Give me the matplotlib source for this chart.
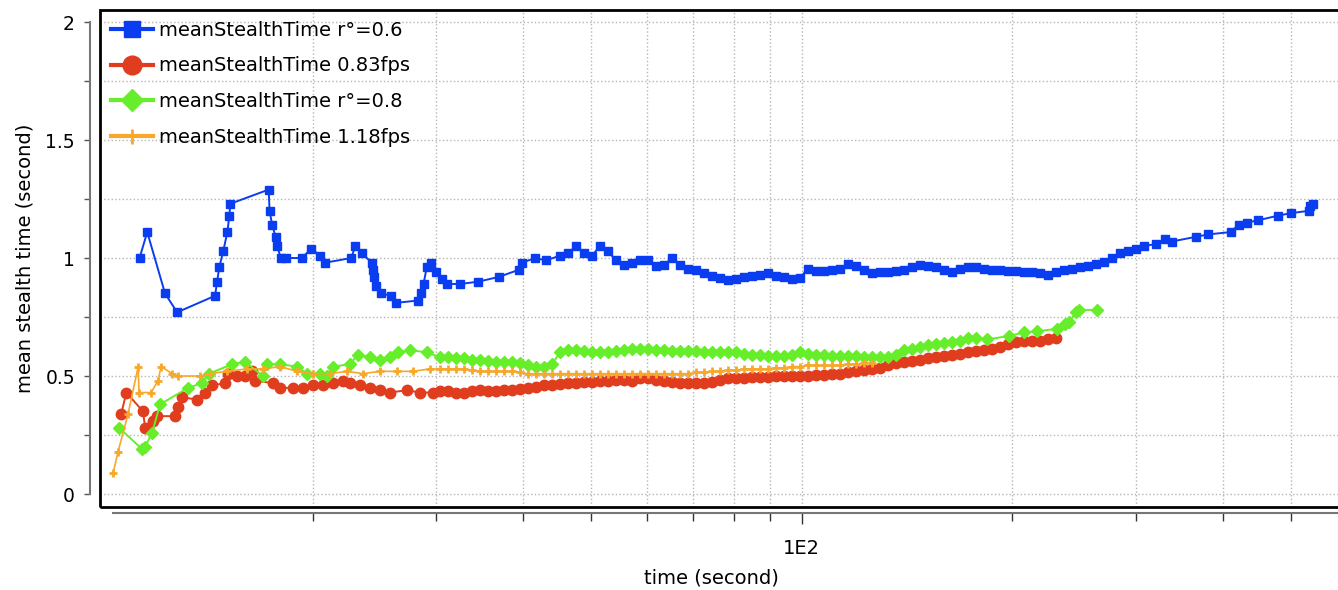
import matplotlib.pyplot as plt
from matplotlib.patches import Rectangle
from matplotlib.ticker import FixedLocator, FixedFormatter

# données (temps en s, temps de furtivité moyen en s)
# instants de la zone dense (lus tous les ~8 px de 30 s à 300 s)
t_dense = [30.40, 31.21, 32.04, 32.90, 33.77, 34.67, 35.60, 36.54, 37.52, 38.52,
           39.56, 40.61, 41.69, 42.81, 43.95, 45.12, 46.32, 47.56, 48.82, 50.13,
           51.46, 52.83, 54.24, 55.69, 57.17, 58.70, 60.26, 61.87, 63.52, 65.21,
           66.95, 68.73, 70.57, 72.45, 74.38, 76.37, 78.40, 80.49, 82.64, 84.84,
           87.10, 89.42, 91.81, 94.26, 96.77, 99.34, 102.0, 104.7, 107.5, 110.4,
           113.3, 116.3, 119.4, 122.6, 125.9, 129.2, 132.7, 136.2, 139.9, 143.6,
           147.4, 151.3, 155.4, 159.5, 163.8, 168.2, 172.6, 177.2, 182.0, 186.8,
           191.8, 196.9, 202.2, 207.6, 213.1, 218.8, 224.6, 230.6, 236.8, 243.1,
           249.6, 256.2, 263.1, 270.1, 277.3, 284.7, 292.3, 300.1]

# r°=0.6
t_blue_start = [11.31, 11.6, 12.3, 12.8, 14.5, 14.6, 14.7, 14.9, 15.1, 15.2, 15.25, 17.3, 17.35,
                17.5, 17.7, 17.8, 18.0, 18.3, 19.3, 19.9, 20.5, 20.8, 22.7, 23.0, 23.5, 24.3, 24.4,
                24.5, 24.6, 25.0, 25.9, 26.3, 28.3, 28.6, 28.8, 29.1, 29.5, 30.0, 30.6, 31.1, 32.5,
                34.5, 36.9, 39.4, 39.8, 41.6, 43.1]
m_blue_start = [1.00, 1.11, 0.85, 0.77, 0.84, 0.90, 0.96, 1.03, 1.11, 1.18, 1.23, 1.29, 1.20,
                1.14, 1.09, 1.05, 1.00, 1.00, 1.00, 1.04, 1.01, 0.98, 1.00, 1.05, 1.02, 0.98, 0.95,
                0.92, 0.88, 0.85, 0.84, 0.81, 0.82, 0.85, 0.89, 0.96, 0.98, 0.94, 0.91, 0.89, 0.89,
                0.90, 0.92, 0.95, 0.98, 1.00, 0.99]
m_blue_dense = [1.01, 1.02, 1.05, 1.02, 1.01, 1.05, 1.03, 0.99, 0.97, 0.98,
                0.99, 0.99, 0.965, 0.97, 1.00, 0.97, 0.955, 0.95, 0.935, 0.925,
                0.915, 0.905, 0.91, 0.92, 0.925, 0.93, 0.935, 0.925, 0.92, 0.91,
                0.915, 0.955, 0.945, 0.945, 0.95, 0.955, 0.975, 0.965, 0.95, 0.935,
                0.94, 0.94, 0.945, 0.95, 0.96, 0.97, 0.965, 0.96, 0.95, 0.94,
                0.955, 0.96, 0.96, 0.955, 0.95, 0.95, 0.945, 0.945, 0.94, 0.94,
                0.935, 0.93, 0.94, 0.95, 0.955, 0.96, 0.965, 0.975, 0.985, 1.00,
                1.02, 1.03, 1.04]
t_blue_end = [308.1, 321, 331, 338, 366, 381, 410, 421, 433, 449, 480, 500, 530, 533, 538]
m_blue_end = [1.05, 1.06, 1.08, 1.07, 1.09, 1.10, 1.11, 1.14, 1.15, 1.16, 1.18, 1.19, 1.20, 1.22, 1.23]

# 0.83fps
t_red_start = [10.65, 10.83, 11.44, 11.52, 11.63, 11.83, 11.98, 12.71, 12.84, 13.01, 13.67, 14.03,
               14.36, 14.98, 15.13, 15.59, 16.00, 16.38, 16.54, 17.55, 17.96, 18.74, 19.37, 20.01,
               20.68, 21.37, 22.09, 22.60, 23.36, 24.14, 24.95, 25.78, 27.26, 28.45, 29.69]
m_red_start = [0.34, 0.43, 0.35, 0.28, 0.28, 0.31, 0.33, 0.33, 0.37, 0.41, 0.40, 0.43, 0.46, 0.47,
               0.51, 0.50, 0.50, 0.52, 0.48, 0.47, 0.45, 0.45, 0.45, 0.46, 0.46, 0.47, 0.48, 0.47,
               0.46, 0.45, 0.44, 0.43, 0.44, 0.43, 0.43]
m_red_dense = [0.435, 0.435, 0.43, 0.43, 0.435, 0.44, 0.435, 0.435, 0.44, 0.44,
               0.445, 0.45, 0.455, 0.46, 0.46, 0.465, 0.47, 0.47, 0.475, 0.475,
               0.48, 0.48, 0.485, 0.485, 0.48, 0.49, 0.49, 0.485, 0.48, 0.475,
               0.47, 0.47, 0.47, 0.47, 0.475, 0.485, 0.49, 0.49, 0.49, 0.495,
               0.495, 0.495, 0.50, 0.50, 0.50, 0.50, 0.50, 0.505, 0.505, 0.51,
               0.51, 0.515, 0.52, 0.525, 0.53, 0.535, 0.545, 0.555, 0.56, 0.565,
               0.57, 0.575, 0.58, 0.585, 0.59, 0.595, 0.60, 0.605, 0.61, 0.615,
               0.625, 0.635, 0.645, 0.65, 0.65, 0.65, 0.655, 0.66]

# r°=0.8
t_green_start = [10.58, 11.41, 11.52, 11.79, 12.10, 13.27, 13.89, 14.22, 15.33, 16.00, 16.98, 17.20,
                 17.96, 18.99, 19.62, 20.48, 20.96, 21.37, 22.60, 23.20, 24.14, 24.95, 25.78, 26.47,
                 27.53, 29.11]
m_green_start = [0.28, 0.19, 0.20, 0.26, 0.38, 0.45, 0.47, 0.51, 0.55, 0.56, 0.50, 0.55, 0.55, 0.54,
                 0.51, 0.51, 0.50, 0.54, 0.55, 0.59, 0.58, 0.57, 0.58, 0.60, 0.61, 0.60]
m_green_dense = [0.58, 0.58, 0.575, 0.575, 0.57, 0.57, 0.565, 0.56, 0.56, 0.56,
                 0.555, 0.545, 0.54, 0.54, 0.55, 0.60, 0.61, 0.61, 0.605, 0.60,
                 0.60, 0.60, 0.605, 0.61, 0.615, 0.615, 0.615, 0.61, 0.61, 0.605,
                 0.605, 0.605, 0.605, 0.60, 0.60, 0.60, 0.60, 0.60, 0.595, 0.59,
                 0.59, 0.585, 0.585, 0.585, 0.59, 0.60, 0.595, 0.59, 0.59, 0.585,
                 0.585, 0.585, 0.585, 0.58, 0.58, 0.58, 0.58, 0.59, 0.61, 0.615,
                 0.625, 0.63, 0.635, 0.64, 0.645, 0.65, 0.66, 0.66]
t_green_end = [184.1, 197.9, 208.0, 217.0, 231.8, 238.0, 241.1, 246.8, 249.2, 264.4]
m_green_end = [0.655, 0.67, 0.685, 0.69, 0.70, 0.72, 0.73, 0.77, 0.78, 0.78]

# 1.18fps
t_orange_start = [10.37, 10.54, 10.89, 11.26, 11.29, 11.75, 12.02, 12.14, 12.59, 12.84, 13.80,
                  14.26, 15.08, 16.11, 16.98, 17.96, 18.99, 20.01, 21.16, 22.38, 23.59, 24.95,
                  26.38, 27.80, 29.40]
m_orange_start = [0.09, 0.18, 0.34, 0.54, 0.43, 0.43, 0.48, 0.54, 0.51, 0.50, 0.50, 0.51, 0.52,
                  0.53, 0.53, 0.54, 0.52, 0.51, 0.51, 0.52, 0.51, 0.52, 0.52, 0.52, 0.53]
m_orange_dense = [0.53, 0.53, 0.53, 0.53, 0.525, 0.52, 0.52, 0.52, 0.52, 0.52,
                  0.515, 0.51, 0.51, 0.51, 0.51, 0.51, 0.51, 0.51, 0.51, 0.51,
                  0.51, 0.51, 0.51, 0.51, 0.51, 0.51, 0.51, 0.51, 0.51, 0.51,
                  0.51, 0.51, 0.515, 0.515, 0.52, 0.52, 0.525, 0.525, 0.53, 0.53,
                  0.53, 0.53, 0.535, 0.535, 0.54, 0.54, 0.545, 0.545, 0.545, 0.545,
                  0.545, 0.55, 0.55, 0.555, 0.555]

labels = ['meanStealthTime r°=0.6', 'meanStealthTime 0.83fps',
          'meanStealthTime r°=0.8', 'meanStealthTime 1.18fps']
yticks = [0, 0.5, 1, 1.5, 2]
ytick_labels = ['0', '0.5', '1', '1.5', '2']


def serie(t_start, m_start, i0, m_dense, t_end=(), m_end=()):
    n = len(m_dense)
    t = list(t_start) + t_dense[i0:i0 + n] + list(t_end)
    m = list(m_start) + list(m_dense) + list(m_end)
    return t, m


t_blue, m_blue = serie(t_blue_start, m_blue_start, 15, m_blue_dense, t_blue_end, m_blue_end)
t_red, m_red = serie(t_red_start, m_red_start, 0, m_red_dense)
t_green, m_green = serie(t_green_start, m_green_start, 0, m_green_dense, t_green_end, m_green_end)
t_orange, m_orange = serie(t_orange_start, m_orange_start, 0, m_orange_dense)

fig = plt.figure(figsize=(13.38, 5.90), dpi=100)
ax = fig.add_axes([100/1338, 1-507/590, 1-100/1338, 497/590])

ax.plot(t_blue, m_blue, color='#0a3cf0', marker='s', ms=6.3, lw=1.4, label=labels[0])
ax.plot(t_red, m_red, color='#e03c1e', marker='o', ms=7.5, lw=1.4, label=labels[1])
ax.plot(t_green, m_green, color='#66ee2a', marker='D', ms=6.3, lw=1.4, label=labels[2])
ax.plot(t_orange, m_orange, color='#f7a82a', marker='+', ms=6, mew=2, lw=1.2, label=labels[3])

ax.set_xscale('log')
ax.set_xlim(9.93, 584)
ax.set_ylim(-0.055, 2.051)

ax.xaxis.set_major_locator(FixedLocator([100]))
ax.xaxis.set_major_formatter(FixedFormatter(['1E2']))
ax.xaxis.set_minor_locator(FixedLocator([20, 30, 40, 50, 60, 70, 80, 90, 200, 300, 400, 500]))
ax.set_yticks(yticks)
ax.set_yticklabels(ytick_labels)
ax.set_yticks([0.25, 0.75, 1.25, 1.75], minor=True)

# Grille et axes décalés
ax.grid(True, which='both', linestyle=':', color='#b5b5b5', linewidth=1)
for s in ['top', 'right']:
    ax.spines[s].set_visible(False)
ax.spines['left'].set_position(('outward', 7))
ax.spines['left'].set_bounds(0, 2)
ax.spines['bottom'].set_position(('outward', 4))
ax.spines['bottom'].set_bounds(10.35, 584)
for s in ['left', 'bottom']:
    ax.spines[s].set_color('#777777')
    ax.spines[s].set_linewidth(1.5)
ax.add_patch(Rectangle((0, 0), 1.05, 1, transform=ax.transAxes, fill=False,
                       ec='black', lw=2, clip_on=False, zorder=5))

ax.tick_params(axis='y', which='both', length=4.5, width=1, color='#555555', pad=6.5, labelsize=13.5)
ax.tick_params(axis='x', which='major', length=8, width=1, color='#333333', pad=11, labelsize=14)
ax.tick_params(axis='x', which='minor', length=6, width=1, color='#333333')

ax.set_ylabel('mean stealth time (second)', fontsize=14)
ax.yaxis.set_label_coords(-0.053, 0.5)
ax.set_xlabel('time (second)', fontsize=14)
ax.xaxis.set_label_coords(0.494, -0.124)

leg = ax.legend(loc='upper left', frameon=False, fontsize=14, markerscale=1.8,
                handlelength=2.2, handletextpad=0.26, labelspacing=0.86,
                borderaxespad=0.15)
for h in leg.legend_handles:
    h.set_linewidth(3)

fig.savefig('out.png', dpi=100)
